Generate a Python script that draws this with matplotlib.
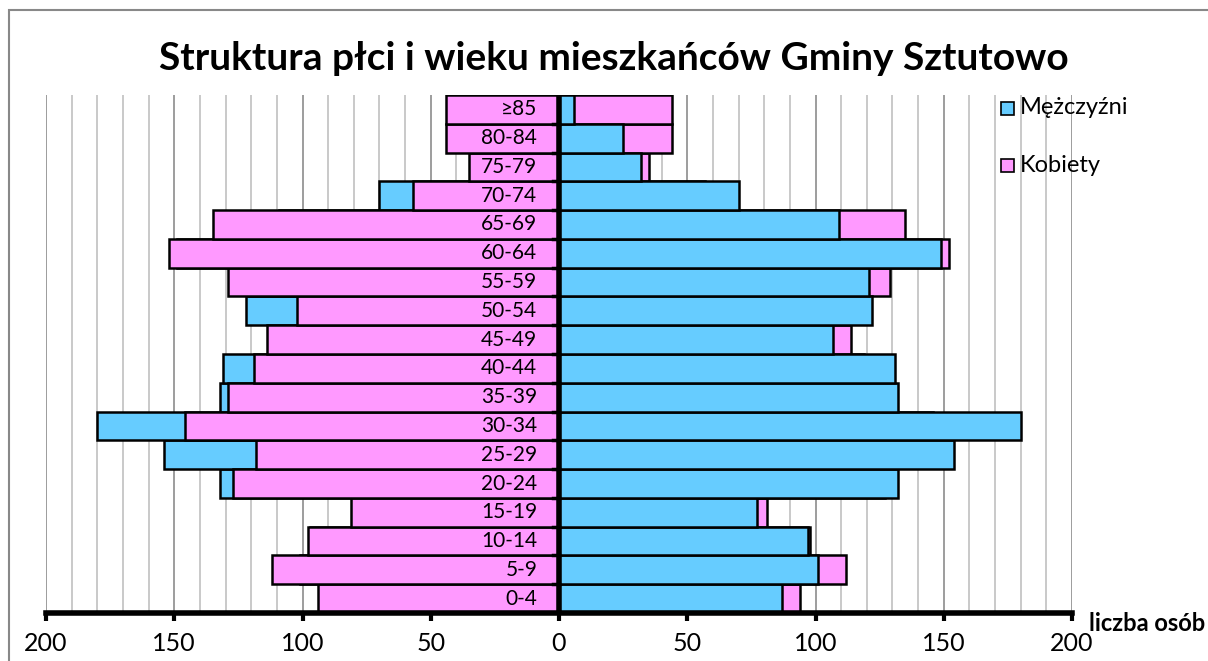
import matplotlib.pyplot as plt
from matplotlib.patches import Rectangle
from matplotlib.ticker import MultipleLocator, FuncFormatter

groups = ["0-4", "5-9", "10-14", "15-19", "20-24", "25-29", "30-34", "35-39", "40-44",
          "45-49", "50-54", "55-59", "60-64", "65-69", "70-74", "75-79", "80-84", "≥85"]
men = [87, 101, 97, 77, 132, 154, 180, 132, 131, 107, 122, 121, 149, 109, 70, 32, 25, 6]
women = [94, 112, 98, 81, 127, 118, 146, 129, 119, 114, 102, 129, 152, 135, 57, 35, 44, 44]

blue = "#66CCFF"
pink = "#FF99FF"

plt.rcParams['font.family'] = ['Lato', 'DejaVu Sans']

fig = plt.figure(figsize=(12.08, 6.61), dpi=100)
ax = fig.add_axes([46 / 1208, 48 / 661, 1026 / 1208, 518 / 661])

y = list(range(len(groups)))
bar = dict(height=1.0, edgecolor="black", linewidth=1.8)
# left side: women on top, right side: men on top
ax.barh(y, [-m for m in men], color=blue, zorder=2, **bar)
ax.barh(y, [-w for w in women], color=pink, zorder=3, **bar)
ax.barh(y, women, color=pink, zorder=2, **bar)
ax.barh(y, men, color=blue, zorder=3, **bar)

ax.set_xlim(-200, 200)
ax.set_ylim(-0.5, len(groups) - 0.5)

for v in range(-200, 201, 10):
    ax.axvline(v, color="#8c8c8c" if v % 50 == 0 else "#c0c0c0", lw=1.2, zorder=1)

ax.xaxis.set_major_locator(MultipleLocator(50))
ax.xaxis.set_major_formatter(FuncFormatter(lambda v, p: f"{abs(int(v))}"))
ax.tick_params(axis="x", direction="out", length=6, width=3, labelsize=18, pad=8)
ax.set_yticks([])
for s in ["top", "right", "left"]:
    ax.spines[s].set_visible(False)
ax.spines["bottom"].set_linewidth(4)
ax.spines["bottom"].set_zorder(5)

ax.axvline(0, color="black", lw=4, zorder=5)
for yi, g in zip(y, groups):
    ax.text(-8.5, yi, g, ha="right", va="center", fontsize=15, zorder=6)
    ax.plot([-2.5, 0], [yi - 0.5, yi - 0.5], color="black", lw=2.5, zorder=6)

ax.text(206.5, -0.85, "liczba osób", ha="left", va="center", fontsize=17,
        fontweight="bold", clip_on=False)

fig.text(614 / 1208, 1 - 58 / 661, "Struktura płci i wieku mieszkańców Gminy Sztutowo",
         ha="center", va="center", fontsize=28, fontweight="bold")

for yy, col, lab in [(108, blue, "Mężczyźni"), (165, pink, "Kobiety")]:
    fig.patches.append(Rectangle((1001 / 1208, 1 - (yy + 7) / 661), 13 / 1208, 13 / 661,
                                 transform=fig.transFigure, facecolor=col,
                                 edgecolor="black", lw=1.2))
    fig.text(1020 / 1208, 1 - yy / 661, lab, ha="left", va="center", fontsize=17)

fig.patches.append(Rectangle((9 / 1208, -0.1), 1.2, 1 - 10 / 661 + 0.1,
                             transform=fig.transFigure, fill=False,
                             edgecolor="#888888", lw=1.5))

fig.savefig("out.png", dpi=100, facecolor="white")
